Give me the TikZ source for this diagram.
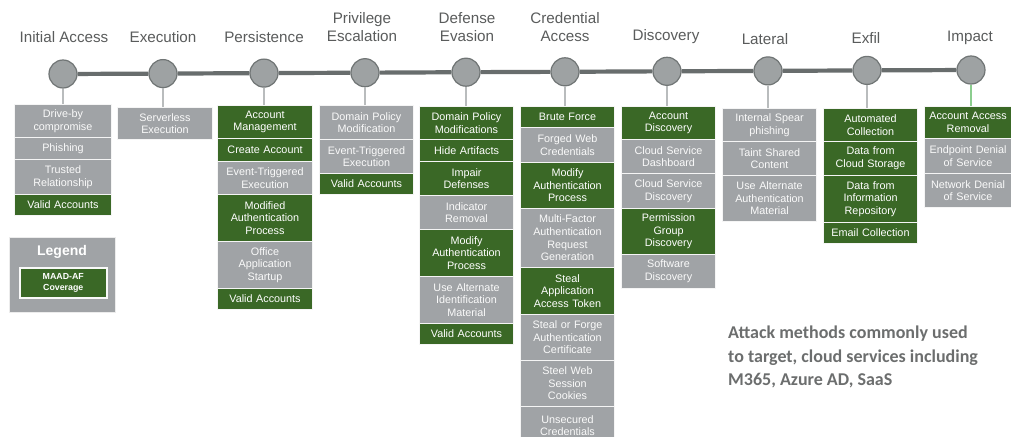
\documentclass[tikz,border=0pt]{standalone}
\usepackage{fontspec}
\setmainfont{Liberation Sans}
\newfontfamily\carlito{Carlito}
\definecolor{mgreen}{RGB}{58,104,38}
\definecolor{mgrey}{RGB}{160,163,166}
\definecolor{ttl}{RGB}{90,92,92}
\definecolor{tline}{RGB}{104,109,109}
\definecolor{cfill}{RGB}{158,162,163}
\definecolor{cdraw}{RGB}{112,117,117}
\definecolor{conncol}{RGB}{185,188,189}
\definecolor{noteclr}{RGB}{108,110,110}
\newcommand\bx[7]{\node[#2, anchor=north west, minimum width=#5pt, minimum height=#6pt] (#1) at (#3,#4) {#7};}
\begin{document}
\begin{tikzpicture}[x=1pt,y=-1pt,
  base/.style={draw=white!92!gray, line width=1pt, inner xsep=1.5pt, inner ysep=0pt, align=center,
    text width=90pt, text=white, font=\fontsize{10.8}{12.6}\selectfont},
  gbox/.style={base, fill=mgreen},
  ybox/.style={base, fill=mgrey, text=white!96!gray},
  ibox/.style={text width=84pt},
  dot/.style={circle, fill=cfill, draw=cdraw, line width=1.2pt, minimum size=28pt, inner sep=0pt},
  tl/.style={draw=tline, line width=4.2pt},
  conn/.style={draw=conncol, line width=1.2pt},
  ttlstyle/.style={text=ttl, align=center, font=\fontsize{15.2}{18}\selectfont, inner sep=0pt},
]
\useasboundingbox (0,0) rectangle (1011,436);
\fill[white] (0,0) rectangle (1011,436);

% timeline dots
\node[dot] (c1) at (63,74) {};
\node[dot] (c2) at (163,73.6) {};
\node[dot] (c3) at (264,73.1) {};
\node[dot] (c4) at (365,72.7) {};
\node[dot] (c5) at (466,72.2) {};
\node[dot] (c6) at (565,71.8) {};
\node[dot] (c7) at (667,71.3) {};
\node[dot] (c8) at (768,70.9) {};
\node[dot] (c9) at (867,70.4) {};
\node[dot] (c10) at (971,70) {};
\foreach \a/\b in {c1/c2,c2/c3,c3/c4,c4/c5,c5/c6,c6/c7,c7/c8,c8/c9,c9/c10}
  \draw[tl] (\a) -- (\b);

% titles
\node[ttlstyle] (t1) at (64,37) {Initial Access};
\node[ttlstyle] (t2) at (163,37) {Execution};
\node[ttlstyle] (t3) at (264,37) {Persistence};
\node[ttlstyle] (t4) at (362,27) {Privilege\\Escalation};
\node[ttlstyle] (t5) at (467,27) {Defense\\Evasion};
\node[ttlstyle] (t6) at (565,27) {Credential\\Access};
\node[ttlstyle] (t7) at (666,37) {Discovery};
\node[ttlstyle] (t8) at (765,39) {Lateral};
\node[ttlstyle] (t9) at (866,38) {Exfil};
\node[ttlstyle] (t10) at (970,38) {Impact};

% Initial Access
\bx{a1}{ybox}{14}{104}{97}{33}{Drive-by\\compromise}
\bx{a2}{ybox}{14}{137}{97}{22}{Phishing}
\bx{a3}{ybox}{14}{159}{97}{35}{Trusted\\Relationship}
\bx{a4}{gbox}{14}{194}{97}{21}{Valid Accounts}
% Execution
\bx{b1}{ybox}{117}{107}{95}{32}{Serverless\\Execution}
% Persistence
\bx{p1}{gbox}{217}{105}{95}{33}{Account\\Management}
\bx{p2}{gbox}{217}{138}{95}{23}{Create Account}
\bx{p3}{ybox}{217}{161}{95}{33}{Event-Triggered\\Execution}
\bx{p4}{gbox}{217}{194}{95}{47}{Modified\\Authentication\\Process}
\bx{p5}{ybox}{217}{241}{95}{47}{Office\\Application\\Startup}
\bx{p6}{gbox}{217}{288}{95}{21}{Valid Accounts}
% Privilege Escalation
\bx{e1}{ybox}{319}{105}{94}{34}{Domain Policy\\Modification}
\bx{e2}{ybox}{319}{139}{94}{34}{Event-Triggered\\Execution}
\bx{e3}{gbox}{319}{173}{94}{21}{Valid Accounts}
% Defense Evasion
\bx{d1}{gbox}{419}{106}{94}{33}{Domain Policy\\Modifications}
\bx{d2}{gbox}{419}{139}{94}{22}{Hide Artifacts}
\bx{d3}{gbox}{419}{161}{94}{34}{Impair\\Defenses}
\bx{d4}{ybox}{419}{195}{94}{34}{Indicator\\Removal}
\bx{d5}{gbox}{419}{229}{94}{47}{Modify\\Authentication\\Process}
\bx{d6}{ybox}{419}{276}{94}{47}{Use Alternate\\Identification\\Material}
\bx{d7}{gbox}{419}{323}{94}{21}{Valid Accounts}
% Credential Access
\bx{k1}{gbox}{520}{106}{94}{21}{Brute Force}
\bx{k2}{ybox}{520}{127}{94}{35}{Forged Web\\Credentials}
\bx{k3}{gbox}{520}{162}{94}{46}{Modify\\Authentication\\Process}
\bx{k4}{ybox}{520}{208}{94}{59}{Multi-Factor\\Authentication\\Request\\Generation}
\bx{k5}{gbox}{520}{267}{94}{47}{Steal\\Application\\Access Token}
\bx{k6}{ybox}{520}{314}{94}{46}{Steal or Forge\\Authentication\\Certificate}
\bx{k7}{ybox}{520}{360}{94}{46}{Steel Web\\Session\\Cookies}
\bx{k8}{ybox}{520}{406}{94}{38}{Unsecured\\Credentials}
% Discovery
\bx{s1}{gbox}{621}{106}{94}{33}{Account\\Discovery}
\bx{s2}{ybox}{621}{139}{94}{34}{Cloud Service\\Dashboard}
\bx{s3}{ybox}{621}{173}{94}{35}{Cloud Service\\Discovery}
\bx{s4}{gbox}{621}{208}{94}{46}{Permission\\Group\\Discovery}
\bx{s5}{ybox}{621}{254}{94}{34}{Software\\Discovery}
% Lateral
\bx{l1}{ybox}{722}{108}{94}{33}{Internal Spear\\phishing}
\bx{l2}{ybox}{722}{141}{94}{34}{Taint Shared\\Content}
\bx{l3}{ybox}{722}{175}{94}{46}{Use Alternate\\Authentication\\Material}
% Exfil
\bx{x1}{gbox}{823}{108}{94}{33}{Automated\\Collection}
\bx{x2}{gbox}{823}{141}{94}{34}{Data from\\Cloud Storage}
\bx{x3}{gbox}{823}{175}{94}{47}{Data from\\Information\\Repository}
\bx{x4}{gbox}{823}{222}{94}{21}{Email Collection}
% Impact
\bx{m1}{gbox,ibox}{924}{106}{87}{32}{Account Access\\Removal}
\bx{m2}{ybox,ibox}{924}{138}{87}{35}{Endpoint Denial\\of Service}
\bx{m3}{ybox,ibox}{924}{173}{87}{34}{Network Denial\\of Service}

% connectors
\foreach \c/\b in {c1/a1,c2/b1,c3/p1,c4/e1,c5/d1,c6/k1,c7/s1,c8/l1,c9/x1}
  \draw[conn] (\c.south) -- (\c.south |- \b.north);
\draw[conn, draw=green!25!conncol] (c10.south) -- (c10.south |- m1.north);

% legend
\node[fill=mgrey, draw=white!85!gray, line width=1pt, anchor=north west, minimum width=106pt, minimum height=75pt] (leg) at (9,237) {};
\node[text=white, font=\bfseries\fontsize{14}{16}\selectfont, inner sep=0pt] (legt) at (62,252) {Legend};
\node[fill=mgreen, draw=white!95!gray, line width=1.5pt, anchor=north west, minimum width=87pt, minimum height=30pt, align=center, text=white, inner sep=0pt, font=\bfseries\fontsize{8.8}{11}\selectfont] (legg) at (19,267) {MAAD-AF\\Coverage};

% note
\node[anchor=north west, inner sep=0pt, align=left, text=noteclr, font=\carlito\bfseries\fontsize{18}{23.5}\selectfont] (note) at (728,326) {Attack methods commonly used\\to target, cloud services including\\M365, Azure AD, SaaS};
\end{tikzpicture}
\end{document}
